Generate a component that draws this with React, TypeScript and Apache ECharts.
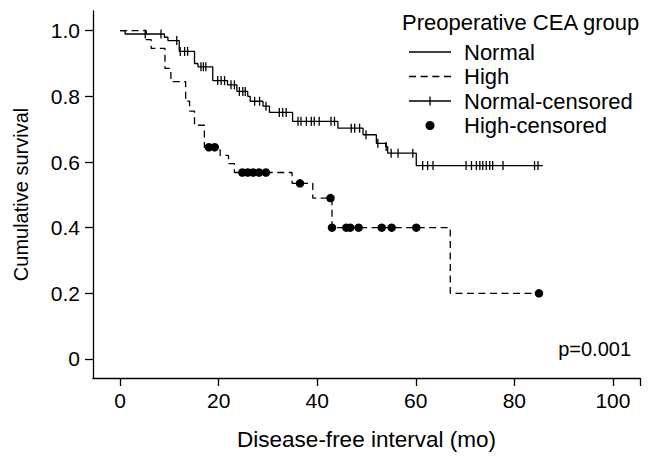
import React, { useEffect, useRef } from "react";
import * as echarts from "echarts";

// Kaplan-Meier steps (time in months, cumulative survival after the step)
const normalTimes = [0, 1.0, 9.0, 9.7, 12.0, 15.1, 15.8, 18.8, 21.8, 23.7, 25.9, 26.4, 29.0, 30.3, 35.0, 44.2, 49.3, 52.0, 53.9, 54.3, 60.1, 85.8];
const normalSurv = [1.0, 0.99, 0.98, 0.97, 0.937, 0.9, 0.89, 0.848, 0.835, 0.815, 0.8, 0.785, 0.77, 0.751, 0.724, 0.703, 0.683, 0.657, 0.647, 0.627, 0.589, 0.589];

const highTimes = [0, 5.3, 6.3, 9.1, 10.3, 13.3, 14.1, 15.1, 17.1, 20.3, 22.0, 23.2, 34.9, 39.1, 43.0, 67.0, 85.0];
const highSurv = [1.0, 0.973, 0.946, 0.885, 0.845, 0.785, 0.755, 0.712, 0.645, 0.62, 0.595, 0.568, 0.535, 0.49, 0.4, 0.2, 0.2];

// censored observation times
const normalCensored = [5.1, 8.3, 11.5, 12.2, 13.1, 13.7, 16.4, 16.9, 17.4, 19.8, 20.5, 21.2, 22.5, 23.2, 24.2, 24.9, 25.4, 27.3, 28.3, 29.6, 32.3, 33.0, 33.7, 36.1, 36.7, 37.8, 38.8, 39.4, 40.4, 42.8, 43.5, 46.9, 47.6, 48.6, 49.9, 52.3, 54.0, 55.0, 56.4, 59.4, 61.4, 62.4, 63.5, 70.2, 71.3, 72.3, 73.0, 73.6, 74.3, 75.0, 75.6, 77.7, 84.1, 84.8];
const highCensored = [18.0, 19.2, 24.8, 25.9, 27.0, 28.2, 29.6, 36.5, 42.7, 43.0, 45.9, 46.7, 48.4, 53.1, 55.1, 60.1, 85.0];

const xTicks = [0, 20, 40, 60, 80, 100];
const yTicks = [0, 0.2, 0.4, 0.6, 0.8, 1.0];

const FONT = "'Liberation Sans', Arial, Helvetica, sans-serif";

function levelAt(times: number[], surv: number[], t: number): number {
  let v = surv[0];
  for (let i = 0; i < times.length; i++) if (times[i] <= t) v = surv[i];
  return v;
}

export default function App() {
  const ref = useRef<HTMLDivElement>(null);
  useEffect(() => {
    if (!ref.current) return;
    const chart = echarts.init(ref.current, null, { renderer: "svg" });
    const xMin = -5.5, xMax = 105.5, yMin = -0.058, yMax = 1.06;
    chart.setOption({
      animation: false,
      backgroundColor: "#fff",
      textStyle: { fontFamily: FONT, color: "#000" },
      grid: { left: 93, right: 13, top: 11, bottom: 87, containLabel: false },
      xAxis: {
        type: "value", min: xMin, max: xMax,
        name: "Disease-free interval (mo)", nameLocation: "middle", nameGap: 50,
        nameTextStyle: { fontSize: 22.5, color: "#000", fontFamily: FONT },
        axisLine: { onZero: false, lineStyle: { color: "#000", width: 1.3 } },
        axisTick: { show: true, length: 8, lineStyle: { color: "#000", width: 1.3 }, customValues: [...xTicks, xMax] },
        axisLabel: { customValues: xTicks, fontSize: 21, color: "#000", margin: 12, fontFamily: FONT },
        splitLine: { show: false },
      },
      yAxis: {
        type: "value", min: yMin, max: yMax,
        name: "Cumulative survival", nameLocation: "middle", nameGap: 62,
        nameTextStyle: { fontSize: 20, color: "#000", fontFamily: FONT },
        axisLine: { onZero: false, lineStyle: { color: "#000", width: 1.3 } },
        axisTick: { show: true, length: 8, lineStyle: { color: "#000", width: 1.3 }, customValues: yTicks },
        axisLabel: {
          customValues: yTicks, fontSize: 21, color: "#000", margin: 13, fontFamily: FONT,
          formatter: (v: number) => (v === 0 ? "0" : v.toFixed(1)),
        },
        splitLine: { show: false },
      },
      legend: {
        orient: "vertical", left: 404, top: 36, itemWidth: 42, itemHeight: 9, itemGap: 2.5,
        textStyle: { fontSize: 22, color: "#000", lineHeight: 20, fontFamily: FONT, padding: [0, 0, 0, 8] },
        symbolKeepAspect: true,
        data: [
          { name: "Normal", icon: "path://M0,0H42V1.3H0Z" },
          { name: "High", icon: "path://M0,0H7V1.3H0Z M11.5,0H18.5V1.3H11.5Z M23,0H30V1.3H23Z M34.5,0H41.5V1.3H34.5Z" },
          { name: "Normal-censored", icon: "path://M0,3.85H42V5.15H0Z M20.35,0H21.65V9H20.35Z" },
          { name: "High-censored", icon: "circle" },
        ],
      },
      graphic: [
        { type: "text", left: 402, top: 11, style: { text: "Preoperative CEA group", fontSize: 22, fill: "#000", fontFamily: FONT } },
        { type: "text", right: 22, top: 339, style: { text: "p=0.001", fontSize: 20, fill: "#000", fontFamily: FONT } },
      ],
      series: [
        {
          name: "Normal", type: "line", step: "end", showSymbol: false, symbol: "none",
          color: "#000", lineStyle: { color: "#000", width: 1.3 },
          data: normalTimes.map((t, i) => [t, normalSurv[i]]),
        },
        {
          name: "High", type: "line", step: "end", showSymbol: false, symbol: "none",
          color: "#000", lineStyle: { color: "#000", width: 1.3, type: [7, 4.5] },
          data: highTimes.map((t, i) => [t, highSurv[i]]),
        },
        {
          name: "Normal-censored", type: "scatter", symbol: "rect", symbolSize: [1.3, 9],
          color: "#000", itemStyle: { color: "#000", opacity: 1 },
          data: normalCensored.map((t) => [t, levelAt(normalTimes, normalSurv, t)]),
        },
        {
          name: "High-censored", type: "scatter", symbol: "circle", symbolSize: 8.5,
          color: "#000", itemStyle: { color: "#000", opacity: 1 },
          data: highCensored.map((t) => [t, levelAt(highTimes, highSurv, t)]),
        },
      ],
    });
    return () => chart.dispose();
  }, []);
  return <div ref={ref} style={{ position: "fixed", left: 0, top: 0, width: 653, height: 465 }} />;
}
